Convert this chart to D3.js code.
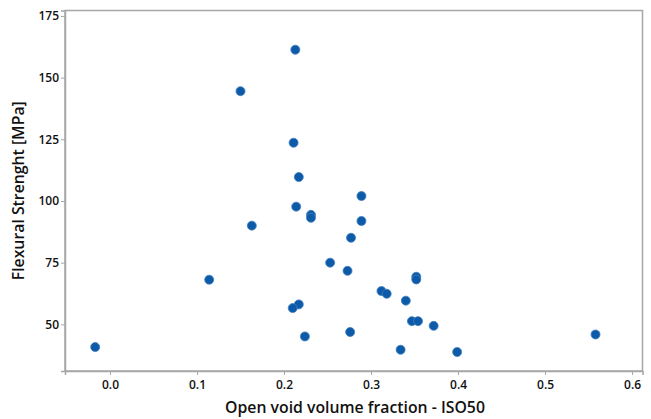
<!DOCTYPE html>
<html>
<head>
<meta charset="utf-8">
<script src="https://cdn.jsdelivr.net/npm/d3@7"></script>
<style>
  body { margin: 0; background: #fff; }
  svg { display: block; font-family: "Open Sans", "Noto Sans", sans-serif; }
</style>
</head>
<body>
<div id="plot"></div>
<script>
var w = 651;
var h = 419;

// Data: open void volume fraction vs flexural strength
var voidFraction = [-0.017, 0.114, 0.150, 0.213, 0.211, 0.217, 0.289, 0.214, 0.231, 0.231,
	0.289, 0.163, 0.277, 0.253, 0.273, 0.352, 0.352, 0.312, 0.318, 0.340,
	0.217, 0.210, 0.347, 0.354, 0.372, 0.276, 0.224, 0.334, 0.399, 0.558];
var strength = [40.8, 68.1, 144.5, 161.3, 123.6, 109.7, 102.0, 97.7, 94.4, 93.2,
	91.9, 90.0, 85.1, 75.0, 71.7, 69.3, 68.2, 63.5, 62.4, 59.6,
	58.1, 56.6, 51.3, 51.3, 49.4, 46.9, 45.1, 39.7, 38.8, 45.9];
var xTicks = [0.0, 0.1, 0.2, 0.3, 0.4, 0.5, 0.6];
var yTicks = [50, 75, 100, 125, 150, 175];

var points = voidFraction.map(function (v, i) { return { x: v, y: strength[i] }; });

var margin = { top: 10.5, right: 8.5, bottom: 48, left: 65 };

var x = d3.scaleLinear().domain([-0.0517, 0.612]).range([margin.left, w - margin.right]);
var y = d3.scaleLinear().domain([31.1, 177.2]).range([h - margin.bottom, margin.top]);

var svg = d3.select('#plot').append('svg')
	.attr('width', w)
	.attr('height', h);

// frame
svg.append('rect')
	.attr('x', margin.left)
	.attr('y', margin.top)
	.attr('width', w - margin.right - margin.left)
	.attr('height', h - margin.bottom - margin.top)
	.attr('fill', 'none')
	.attr('stroke', '#a6a6a6')
	.attr('stroke-width', 1.5);

var xAxis = svg.append('g')
	.attr('transform', 'translate(0,' + (h - margin.bottom) + ')')
	.call(d3.axisBottom(x).tickValues(xTicks).tickFormat(d3.format('.1f')).tickSize(4).tickPadding(5));

var yAxis = svg.append('g')
	.attr('transform', 'translate(' + margin.left + ',0)')
	.call(d3.axisLeft(y).tickValues(yTicks).tickSize(4).tickPadding(2));

[xAxis, yAxis].forEach(function (g) {
	g.select('.domain').attr('stroke', '#a6a6a6').attr('stroke-width', 1.5);
	g.selectAll('.tick line').attr('stroke', '#a6a6a6');
	g.selectAll('.tick text')
		.attr('font-size', '12px')
		.attr('font-weight', 600)
		.attr('font-family', '"Open Sans", "Noto Sans", sans-serif')
		.attr('fill', '#111');
});

// dots
svg.selectAll('circle.pt')
	.data(points)
	.enter()
	.append('circle')
	.attr('class', 'pt')
	.attr('cx', function (d) { return x(d.x); })
	.attr('cy', function (d) { return y(d.y); })
	.attr('r', 4.5)
	.attr('fill', '#0d5aa8')
	.attr('stroke', '#3f7fc0')
	.attr('stroke-width', 0.8);

// axis titles
svg.append('text')
	.text('Open void volume fraction - ISO50')
	.attr('x', 355)
	.attr('y', 413)
	.attr('text-anchor', 'middle')
	.attr('font-size', '15.8px')
	.attr('font-weight', 600)
	.attr('fill', '#111');

svg.append('text')
	.text('Flexural Strenght [MPa]')
	.attr('transform', 'translate(24,' + ((margin.top + h - margin.bottom) / 2) + ') rotate(-90)')
	.attr('text-anchor', 'middle')
	.attr('font-size', '15.8px')
	.attr('font-weight', 600)
	.attr('fill', '#111');
</script>
</body>
</html>
